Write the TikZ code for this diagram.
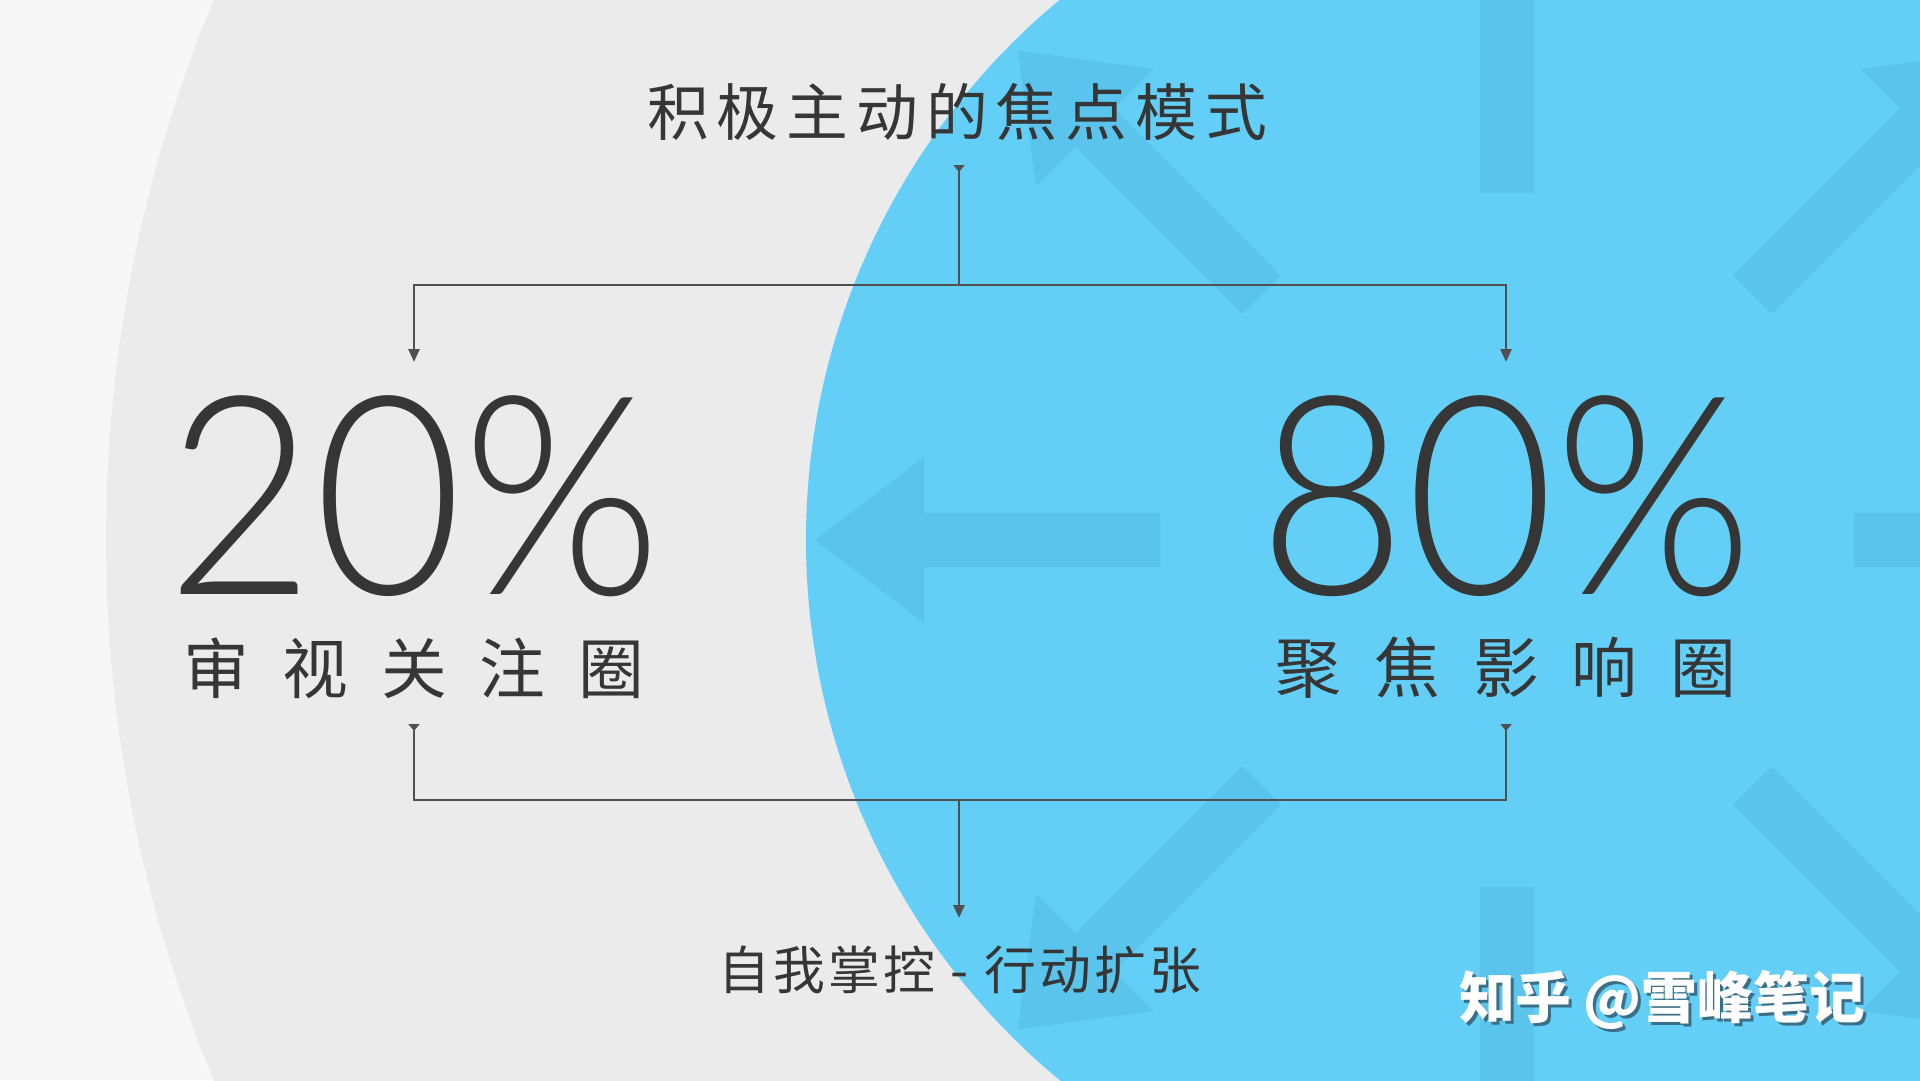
\documentclass[tikz,border=0pt]{standalone}
\usepackage{graphicx}
\usepackage{fontspec}
\setmainfont{Noto Sans CJK SC}
\newfontfamily\cjk{Noto Sans CJK SC}
\newfontfamily\thin{Lato Light}
\usetikzlibrary{arrows.meta}
\definecolor{bgl}{HTML}{F7F7F7}
\definecolor{bgg}{HTML}{EBEBEB}
\definecolor{sky}{HTML}{63CFF7}
\definecolor{skyd}{HTML}{5AC4EC}
\definecolor{inkc}{HTML}{363636}
\definecolor{wire}{HTML}{505050}
\definecolor{shade}{HTML}{3B6F88}
\begin{document}
\begin{tikzpicture}[x=1bp,y=-1bp,
  wirel/.style={draw=wire, line width=2.8bp},
  tailtip/.tip={Triangle[reversed,width=11bp,length=7bp]},
  headtip/.tip={Triangle[width=11bp,length=13bp]},
  titletext/.style={font=\cjk\fontsize{62}{70}\selectfont, text=inkc, inner sep=0pt},
  bigpct/.style={font=\thin\fontsize{279}{300}\selectfont, text=inkc, inner sep=0pt, anchor=base, text height=200bp, text depth=0pt},
  lbltext/.style={font=\cjk\fontsize{66}{70}\selectfont, text=inkc, inner sep=0pt},
  bottext/.style={font=\cjk\fontsize{52}{60}\selectfont, text=inkc, inner sep=0pt},
  marktext/.style={font=\cjk\bfseries\fontsize{56}{60}\selectfont, inner sep=0pt}
]
\useasboundingbox (0,0) rectangle (1920,1080);
\begin{scope}
\clip (0,0) rectangle (1920,1080);
\fill[bgl] (0,0) rectangle (1920,1080);
\fill[bgg] (1508,540) circle[radius=1402];
\fill[sky] (1508,540) circle[radius=702];
\clip (1508,540) circle[radius=702];
\foreach \a in {0,45,...,315}{
  \fill[skyd, shift={(1507,540)}, rotate=\a]
    (347,-27) -- (583,-27) -- (583,-83) -- (692,0) -- (583,83) -- (583,27) -- (347,27) -- cycle;
}
\end{scope}

% texts
\node[titletext] (title) at (957,112) {积\hspace{8bp}极\hspace{8bp}主\hspace{8bp}动\hspace{8bp}的\hspace{8bp}焦\hspace{8bp}点\hspace{8bp}模\hspace{8bp}式};
\node[bigpct] (p20) at (414,594) {\scalebox{0.92}[1]{20\%}};
\node[bigpct] (p80) at (1506,594) {\scalebox{0.92}[1]{80\%}};
\node[lbltext] (l20) at (414,668) {审\hspace{33bp}视\hspace{33bp}关\hspace{33bp}注\hspace{33bp}圈};
\node[lbltext] (l80) at (1506,668) {聚\hspace{33bp}焦\hspace{33bp}影\hspace{33bp}响\hspace{33bp}圈};
\node[bottext] (act) at (960,970) {自\hspace{3bp}我\hspace{3bp}掌\hspace{3bp}控\hspace{16bp}-\hspace{16bp}行\hspace{3bp}动\hspace{3bp}扩\hspace{3bp}张};
\node[marktext, text=shade] (markshadow) at (1665,1003) {知乎 @雪峰笔记};
\node[marktext, text=white] (mark) at (1662,1000) {知乎 @雪峰笔记};

% connectors
\coordinate (tA) at (959,165);
\coordinate (tJ) at (959,285);
\coordinate (lT) at (414,362);
\coordinate (rT) at (1506,362);
\draw[wirel, {tailtip}-] (tA) -- (tJ);
\draw[wirel, -{headtip}] (tJ) -| (lT);
\draw[wirel, -{headtip}] (tJ) -| (rT);

\coordinate (lB) at (414,724);
\coordinate (rB) at (1506,724);
\coordinate (bJ) at (959,800);
\coordinate (bE) at (959,918);
\draw[wirel, {tailtip}-{tailtip}] (lB) |- (bJ) -| (rB);
\draw[wirel, -{headtip}] (bJ) -- (bE);
\end{tikzpicture}
\end{document}
